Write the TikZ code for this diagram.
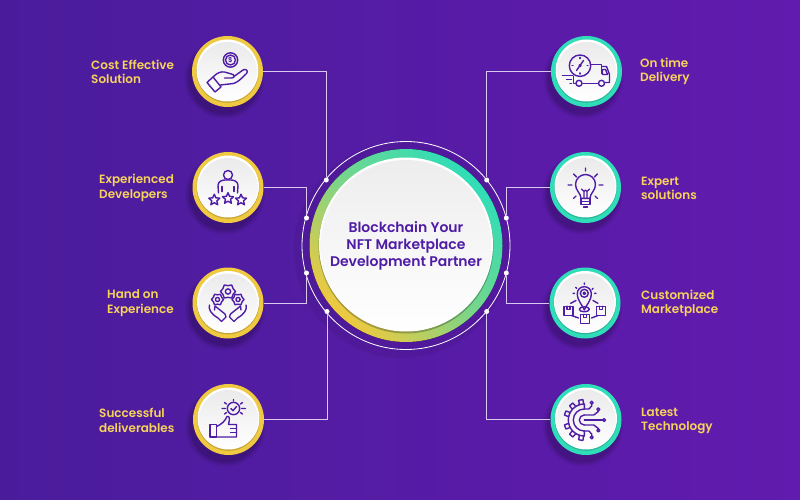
\documentclass[tikz,border=0pt]{standalone}
\usepackage{fontspec}
\setmainfont{Poppins}
\newfontfamily\popm{Poppins SemiBold}
\definecolor{bgl}{HTML}{4A1C9C}
\definecolor{bgr}{HTML}{611BAE}
\definecolor{ink}{HTML}{4F1CA6}
\definecolor{gold}{HTML}{EFC93F}
\definecolor{teal}{HTML}{2FDDB8}
\definecolor{labelc}{HTML}{F6D25A}
\definecolor{wire}{HTML}{D9C9EE}
\tikzset{
  wirel/.style={draw=wire,line width=0.8pt},
  dotn/.style={circle,fill=white,inner sep=0pt,minimum size=5pt},
  lab/.style={anchor=west,align=left,text=labelc,font=\popm\fontsize{12}{14.5}\selectfont,inner sep=0pt},
  ic/.style={draw=ink,line width=1.4pt,line join=round,line cap=round,fill=none},
  badge/.style={circle,inner sep=0pt,minimum size=71pt,fill=#1},
}
\begin{document}
\begin{tikzpicture}[x=1pt,y=-1pt]
\useasboundingbox (0,0) rectangle (800,500);
\shade[left color=bgl,right color=bgr] (0,0) rectangle (800,500);
% centre
\fill[black,opacity=.06] (402,250) circle (108);
\draw[white,line width=0.8pt] (406,245.5) circle (104);
\fill[shading=axis,bottom color=gold,top color=teal,middle color=teal!62!gold,shading angle=-45] (406,245.5) circle (96.5);
\fill[black,opacity=.25] (406,246) circle (87.5);
\fill[white] (406,244.5) circle (87);
\shade[top color=black!7,bottom color=white] (406,245.5) circle (85.5);
\node[inner sep=0pt,align=center,text=ink,font=\popm\fontsize{14}{17}\selectfont] (hub) at (406,245.5) {Blockchain Your\\NFT Marketplace\\Development Partner};
% badges
\foreach \n/\x/\y in {a/227.5/71.5,b/228/187.5,c/228/303,d/228.5/419.5}{
  \foreach \r/\o in {40/.06,38/.08,36/.1}{\fill[black,opacity=\o] (\x-3,\y+7) circle (\r);}
  \node[badge=gold] (\n) at (\x,\y) {};
  \fill[black,opacity=.18] (\x,\y) circle (31.3);
  \fill[white] (\x,\y-1) circle (31);
  \shade[top color=black!8,bottom color=white] (\x,\y) circle (29.5);
}
\foreach \n/\x/\y in {e/586.5/71.5,f/585.5/187.5,g/585/303,h/586/419.5}{
  \foreach \r/\o in {40/.06,38/.08,36/.1}{\fill[black,opacity=\o] (\x-3,\y+7) circle (\r);}
  \node[badge=teal] (\n) at (\x,\y) {};
  \fill[black,opacity=.18] (\x,\y) circle (31.3);
  \fill[white] (\x,\y-1) circle (31);
  \shade[top color=black!8,bottom color=white] (\x,\y) circle (29.5);
}
% dots
\node[dotn] (da) at (326.3,180) {};
\node[dotn] (db) at (306.5,218) {};
\node[dotn] (dc) at (306.5,273) {};
\node[dotn] (dd) at (327,311.5) {};
\node[dotn] (de) at (486.7,180) {};
\node[dotn] (df) at (506.3,218) {};
\node[dotn] (dg) at (506.3,273) {};
\node[dotn] (dh) at (486.7,311.5) {};
% connectors
\draw[wirel] (a.east) -| (da);
\draw[wirel] (b.east) -| (db);
\draw[wirel] (c.east) -| (dc);
\draw[wirel] (d.east) -| (dd);
\draw[wirel] (e.west) -| (de);
\draw[wirel] (f.west) -| (df);
\draw[wirel] (g.west) -| (dg);
\draw[wirel] (h.west) -| (dh);
% labels
\node[lab] (la) at (91,72) {Cost Effective\\Solution};
\node[lab] (lb) at (99,188) {Experienced\\Developers};
\node[lab] (lc) at (107,303) {Hand on\\Experience};
\node[lab] (ld) at (99,420.5) {Successful\\deliverables};
\node[lab] (le) at (640,71.5) {On time\\Delivery};
\node[lab] (lf) at (641,188.5) {Expert\\solutions};
\node[lab] (lg) at (641,303.5) {Customized\\Marketplace};
\node[lab] (lh) at (641,421) {Latest\\Technology};
% icon a: hand and coin
\begin{scope}[shift={(a)}]
\draw[ic] (3,-11.5) circle (7.2) (3,-11.5) circle (5);
\node[text=ink,inner sep=0,font=\popm\fontsize{7}{7}\selectfont] at (3,-11.5) {\$};
\draw[ic] (-14.5,5.5) .. controls (-10,1) and (-7,0) .. (-3,0.5) -- (4,2.5) .. controls (7.5,3) and (7.5,6.5) .. (4,6.5) -- (-3,6.5);
\draw[ic] (6.5,5) -- (15.5,-1.5) .. controls (19,-3.5) and (21,0) .. (19,2) .. controls (14,7) and (10,11) .. (6,12) -- (-7,13.5);
\draw[ic] (-20.5,11) -- (-14.5,5.5) -- (-6.5,15.5) -- (-12.5,20.5) -- cycle;
\end{scope}
% icon b: person and stars
\begin{scope}[shift={(b)}]
\draw[ic] (0,-12.5) circle (4.5);
\draw[ic] (-9.5,5.5) -- (-10,-2) .. controls (-10,-6) and (-6,-7.5) .. (-3,-7.5) -- (3,-7.5) .. controls (6,-7.5) and (10,-6) .. (10,-2) -- (9.5,5.5);
\draw[ic] (-6,-1) -- (-6,4) (6,-1) -- (6,4);
\foreach \sx/\sy in {-13.7/12.5,0/11,13/12.5}{
 \draw[ic] plot[samples at={90,126,...,414},variable=\t] ({\sx+(mod(round((\t-90)/36),2)==0?5.8:2.7)*cos(\t)},{\sy-(mod(round((\t-90)/36),2)==0?5.8:2.7)*sin(\t)}) -- cycle;
}
\end{scope}
% icon c: gears in hands
\begin{scope}[shift={(c)}]
\foreach \gx/\gy/\gr in {0/-11.5/7.5,-10.5/-3.5/6,10/-3.5/6}{
 \draw[ic] plot[samples at={0,30,...,330},variable=\t] ({\gx+(mod(round(\t/30),2)==0?\gr:\gr*.78)*cos(\t)},{\gy+(mod(round(\t/30),2)==0?\gr:\gr*.78)*sin(\t)}) -- cycle;
 \draw[ic] (\gx,\gy) circle (\gr*.35);
}
\draw[ic] (-18.5,2) .. controls (-20,6) and (-17,11) .. (-10,15) -- (-6.5,18.5) -- (-2,14) -- (-3,11) -- (-8,7) -- (-13,3) -- (-13.5,7);
\draw[ic] (18,2) .. controls (19.5,6) and (16.5,11) .. (9.5,15) -- (6,18.5) -- (1.5,14) -- (2.5,11) -- (7.5,7) -- (12.5,3) -- (13,7);
\end{scope}
% icon d: thumbs up
\begin{scope}[shift={(d)}]
\draw[ic] (-18.5,5) rectangle (-12,17.5);
\draw[ic] (-12,7) .. controls (-7,5) and (-3,1) .. (-1.5,-3) .. controls (1,-4) and (1.5,-1) .. (0,5) -- (8,5) -- (8,17.5) -- (-12,17.5);
\draw[ic] (2,9) -- (8,9) (2,13) -- (8,13);
\draw[ic] (5,-11) circle (6.2);
\draw[ic] (2.3,-11) -- (4.5,-8.8) -- (8,-13);
\draw[ic] (5,-20) -- (5,-18.5) (-6.5,-11) -- (-3,-11) (13,-11) -- (17,-11) (-4,-17) -- (-2,-15.5) (14,-17) -- (12,-15.5) (-4,-5.5) -- (-2,-7) (14,-5.5) -- (12,-7);
\end{scope}
% icon e: truck and clock
\begin{scope}[shift={(e)}]
\draw[ic] (-6.5,-5.8) circle (10.7) (-6.5,-5.8) circle (1);
\draw[ic] (-3,-11) -- (-10,-1);
\draw[ic] (-6.5,-14) -- (-6.5,-13) (-6.5,1.5) -- (-6.5,2.5) (-14.5,-5.8) -- (-13.5,-5.8) (0.5,-5.8) -- (1.5,-5.8);
\draw[ic] (5,-7) -- (15,-7) -- (15,2);
\draw[ic] (15,-5) -- (20,-5) -- (23,3) -- (23,11) -- (19,11);
\draw[ic] (16,-2) -- (19,-2) -- (21,3) -- (16,3) -- cycle;
\draw[ic] (11.5,12) -- (-3.5,12) (-13,5) -- (-13,12) -- (-11,12);
\draw[ic] (-7.5,11.8) circle (3) (15,11.8) circle (3);
\draw[ic] (-24,4.2) -- (-13.5,4.2) (-20,8) -- (-15,8) (-16.5,12) -- (-15,12);
\end{scope}
% icon f: bulb
\begin{scope}[shift={(f)}]
\draw[ic] (-4.5,10.8) .. controls (-4.5,6) and (-10,3) .. (-10,-3) .. controls (-10,-9) and (-5,-13) .. (0,-13) .. controls (5,-13) and (10,-9) .. (10,-3) .. controls (10,3) and (4.5,6) .. (4.5,10.8) -- cycle;
\draw[ic] (-4.5,10.8) -- (-4.5,17) -- (4.5,17) -- (4.5,10.8) (-4.5,14) -- (4.5,14) (-2,19.5) -- (2,19.5);
\draw[ic] (-1.5,10.8) -- (-1.5,4) -- (-4,1.5) (1.5,10.8) -- (1.5,4) -- (4,1.5) (-1.5,4) -- (0,2.5) -- (1.5,4);
\draw[ic] (0,-19.5) -- (0,-16.5) (-11.8,-13.5) -- (-9,-10.5) (11.8,-13.5) -- (9,-10.5) (-17.5,-2.5) -- (-13.5,-2.5) (17.5,-2.5) -- (13.5,-2.5) (-12,11) -- (-9.5,8.5) (12,11) -- (9.5,8.5);
\end{scope}
% icon g: marketplace pin
\begin{scope}[shift={(g)}]
\draw[ic] (-.7,7) .. controls (-2.5,2) and (-7.7,-2) .. (-7.7,-9.5) .. controls (-7.7,-13.5) and (-4.5,-16.3) .. (-.7,-16.3) .. controls (3.1,-16.3) and (6.3,-13.5) .. (6.3,-9.5) .. controls (6.3,-2) and (1.1,2) .. (-.7,7) -- cycle;
\draw[ic] (-.7,-9.7) circle (4) (-.7,-9.7) circle (1.2);
\draw[ic] (-.7,6.3) ellipse (5 and 2.5);
\foreach \bx/\by in {-16.7/7.7,16/7.7,0/16}{
 \draw[ic] (\bx-4.5,\by-4.5) rectangle (\bx+4.5,\by+4.5);
 \draw[ic] (\bx-1.5,\by-4.5) -- (\bx-1.5,\by-1.5) -- (\bx+1.5,\by-1.5) -- (\bx+1.5,\by-4.5);
}
\draw[ic] (-14.3,.3) -- (-9,-2.5) (12.9,.3) -- (8,-2.5) (-13.5,12.5) -- (-6.5,15) (13,12.5) -- (6.5,15);
\draw[ic] (-.7,-20) -- (-.7,-18.7) (-9.3,-15.7) -- (-8.3,-14.7) (8,-14.7) -- (7,-13.7) (-12,-9.7) -- (-10.5,-9.7) (9.5,-9.7) -- (11,-9.7);
\end{scope}
% icon h: gear with circuits
\begin{scope}[shift={(h)}]
\begin{scope}[shift={(-1.7,.5)}]
\draw[ic] (0,-16) arc (270:90:16) (0,-11) arc (270:90:11) (0,-16) -- (0,-11) (0,11) -- (0,16) (0,-5) arc (270:90:5);
\foreach \a in {100,130,160,200,230,260}{
 \draw[ic] ({16*cos(\a-8)},{-16*sin(\a-8)}) -- ({20.5*cos(\a-6)},{-20.5*sin(\a-6)}) -- ({20.5*cos(\a+6)},{-20.5*sin(\a+6)}) -- ({16*cos(\a+8)},{-16*sin(\a+8)});
}
\draw[ic] (0,-11) -- (4.5,-11) -- (7.4,-14) -- (7.4,-15.5);
\draw[ic] (0,-5) -- (9.5,-5) -- (14,-8.5) -- (14,-9);
\draw[ic] (0,0) -- (18,0);
\draw[ic] (0,5) -- (9.5,5) -- (14,8.5) -- (14,9);
\draw[ic] (0,11) -- (4.5,11) -- (7.4,14) -- (7.4,15.5);
\end{scope}
\draw[ic] (5.7,-16.8) circle (1.5) (12.3,-10.2) circle (1.5) (18,.5) circle (1.5) (12.3,11) circle (1.5) (5.7,17.8) circle (1.5);
\end{scope}
\end{tikzpicture}
\end{document}
